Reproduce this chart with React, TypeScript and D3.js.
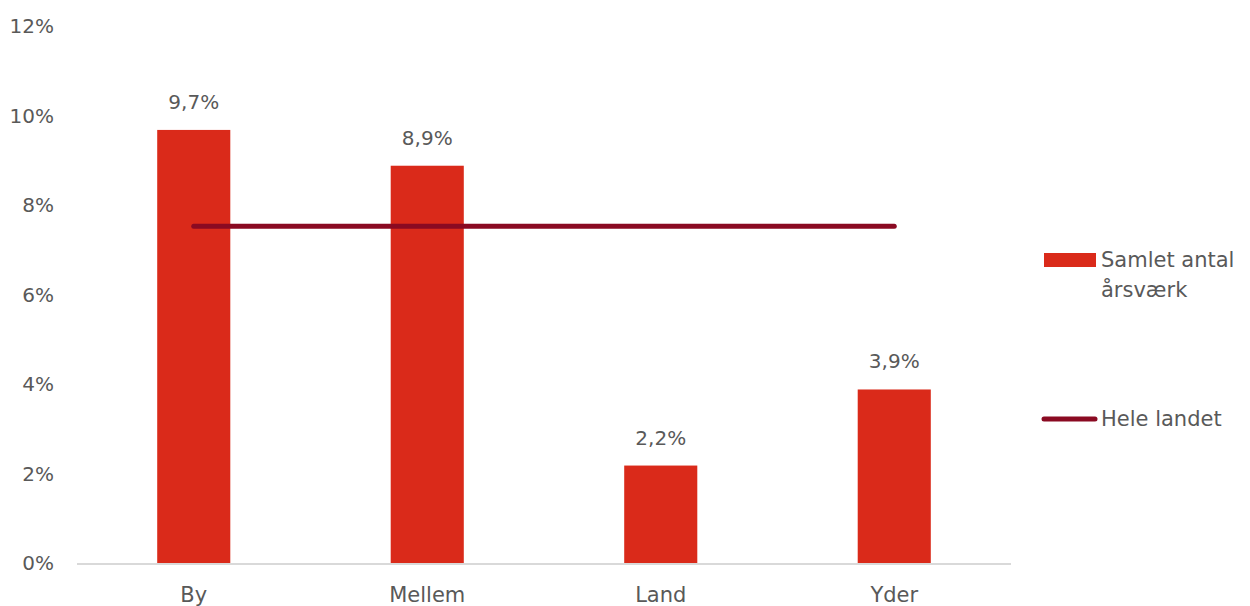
import React from 'react';
import * as d3 from 'd3';

const categories = ['By', 'Mellem', 'Land', 'Yder'];
const barValues = [9.7, 8.9, 2.2, 3.9];
const lineValues = [7.55, 7.55, 7.55, 7.55];
const yTicks = [0, 2, 4, 6, 8, 10, 12];
const seriesNames = ['Samlet antal årsværk', 'Hele landet'];

const width = 1250;
const height = 606;
const font = "'Century Gothic', 'DejaVu Sans', sans-serif";
const textColor = '#595959';
const barColor = '#DA2A1A';
const lineColor = '#8A0A22';

const App = () => {
  const x = d3.scaleBand<string>()
    .domain(categories)
    .range([77, 1011])
    .paddingInner(0.687)
    .paddingOuter(0.3435);

  const y = d3.scaleLinear().domain([0, 12]).range([564, 27]);

  const line = d3.line<number>()
    .x((d, i) => (x(categories[i]) as number) + x.bandwidth() / 2)
    .y(d => y(d));

  const fmt = (v: number) => v.toFixed(1).replace('.', ',') + '%';

  return (
    <svg width={width} height={height} style={{ position: 'absolute', left: 0, top: 0 }}
      fontFamily={font}>
      {yTicks.map(t => (
        <text key={t} x={54} y={y(t) - 1} dy="0.35em" textAnchor="end" fontSize={20} fill={textColor}>
          {t}%
        </text>
      ))}
      {categories.map((c, i) => (
        <g key={c}>
          <rect x={x(c)} y={y(barValues[i])} width={x.bandwidth()}
            height={y(0) - y(barValues[i])} fill={barColor} />
          <text x={(x(c) as number) + x.bandwidth() / 2} y={y(barValues[i]) - 28} dy="0.35em"
            textAnchor="middle" fontSize={20} fill={textColor}>
            {fmt(barValues[i])}
          </text>
          <text x={(x(c) as number) + x.bandwidth() / 2} y={y(0) + 31} dy="0.35em"
            textAnchor="middle" fontSize={21} fill={textColor}>
            {c}
          </text>
        </g>
      ))}
      <line x1={77} x2={1011} y1={y(0)} y2={y(0)} stroke="#D9D9D9" strokeWidth={2} />
      <path d={line(lineValues) || ''} fill="none" stroke={lineColor} strokeWidth={5}
        strokeLinecap="round" />
      <rect x={1044} y={253} width={52} height={14} fill={barColor} />
      <text x={1101} y={260} dy="0.35em" fontSize={21} fill={textColor}>Samlet antal</text>
      <text x={1101} y={290} dy="0.35em" fontSize={21} fill={textColor}>årsværk</text>
      <line x1={1044} x2={1095} y1={419} y2={419} stroke={lineColor} strokeWidth={5}
        strokeLinecap="round" />
      <text x={1101} y={419} dy="0.35em" fontSize={21} fill={textColor}>{seriesNames[1]}</text>
    </svg>
  );
};

export default App;
